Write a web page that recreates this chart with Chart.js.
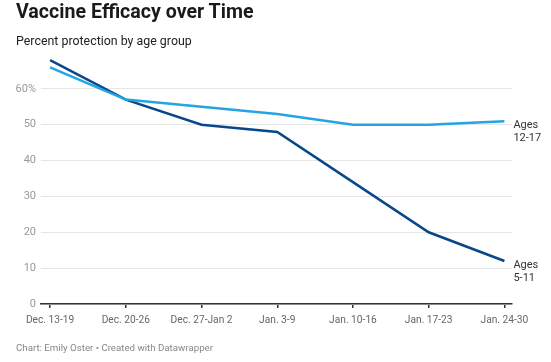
<!DOCTYPE html>
<html>
<head>
<meta charset="utf-8">
<script src="https://cdn.jsdelivr.net/npm/chart.js@4.4.1/dist/chart.umd.min.js"></script>
<style>
  body { margin: 0; background: #fff; font-family: Roboto, "Noto Sans", sans-serif; }
  #wrap { position: relative; width: 551px; height: 362px; }
  #titulo { position: absolute; left: 16px; top: 0px; font-size: 19.6px; font-weight: bold; color: #1a1a1a; }
  #subtitulo { position: absolute; left: 16px; top: 33px; font-size: 12.4px; color: #222; }
  #pie { position: absolute; left: 16px; top: 342px; font-size: 9.7px; color: #888; }
  canvas { position: absolute; left: 0; top: 0; }
</style>
</head>
<body>
<div id="wrap">
  <canvas id="grafico" width="551" height="362"></canvas>
  <div id="titulo">Vaccine Efficacy over Time</div>
  <div id="subtitulo">Percent protection by age group</div>
  <div id="pie">Chart: Emily Oster • Created with Datawrapper</div>
</div>
<script>
// Datos
const semanas = ["Dec. 13-19", "Dec. 20-26", "Dec. 27-Jan 2", "Jan. 3-9", "Jan. 10-16", "Jan. 17-23", "Jan. 24-30"];
const ages1217 = [66, 57, 55, 53, 50, 50, 51];
const ages511 = [68, 57, 50, 48, 34, 20, 12];
const yTicks = [0, 10, 20, 30, 40, 50, 60];
const yTickLabels = ["0", "10", "20", "30", "40", "50", "60%"];

const toPoints = arr => arr.map((v, i) => ({ x: i, y: v }));

// etiquetas al final de cada linea
const etiquetasFinal = {
  id: 'etiquetasFinal',
  afterDatasetsDraw(chart) {
    const ctx = chart.ctx;
    ctx.save();
    ctx.font = '11px Roboto, sans-serif';
    ctx.fillStyle = '#333';
    ctx.textBaseline = 'middle';
    ctx.textAlign = 'left';
    chart.data.datasets.forEach((ds, i) => {
      const meta = chart.getDatasetMeta(i);
      const p = meta.data[meta.data.length - 1];
      const lines = ds.endLabel;
      ctx.fillText(lines[0], p.x + 9, p.y + 4);
      ctx.fillText(lines[1], p.x + 9, p.y + 17);
    });
    ctx.restore();
  }
};

new Chart(document.getElementById('grafico'), {
  type: 'line',
  data: {
    datasets: [
      {
        label: 'Ages 12-17',
        endLabel: ['Ages', '12-17'],
        data: toPoints(ages1217),
        borderColor: '#24a4e3',
        borderWidth: 2.5,
        pointRadius: 0,
        tension: 0
      },
      {
        label: 'Ages 5-11',
        endLabel: ['Ages', '5-11'],
        data: toPoints(ages511),
        borderColor: '#07478a',
        borderWidth: 2.5,
        pointRadius: 0,
        tension: 0
      }
    ]
  },
  options: {
    responsive: false,
    animation: false,
    layout: { padding: { top: 53, right: 39, bottom: 33, left: 0 } },
    plugins: {
      legend: { display: false },
      tooltip: { enabled: false }
    },
    scales: {
      x: {
        type: 'linear',
        min: -0.12,
        max: 6.1,
        afterBuildTicks: scale => { scale.ticks = semanas.map((s, i) => ({ value: i })); },
        afterFit: scale => { scale.height = 25; },
        border: { display: true, color: '#333', width: 1.5 },
        grid: { drawOnChartArea: false, drawTicks: true, tickLength: 4, color: '#333', lineWidth: 1.5 },
        ticks: {
          autoSkip: false,
          maxRotation: 0,
          padding: 6,
          color: '#666',
          font: { family: 'Roboto', size: 10.2 },
          callback: value => semanas[value]
        }
      },
      y: {
        min: 0,
        max: 70,
        afterBuildTicks: scale => { scale.ticks = yTicks.map(v => ({ value: v })); },
        afterFit: scale => { scale.width = 41; },
        border: { display: false },
        grid: { color: '#e6e6e6', lineWidth: 1, drawTicks: false },
        ticks: {
          padding: 5,
          color: '#999',
          font: { family: 'Roboto', size: 11 },
          callback: value => yTickLabels[yTicks.indexOf(value)]
        }
      }
    }
  },
  plugins: [etiquetasFinal]
});
</script>
</body>
</html>
